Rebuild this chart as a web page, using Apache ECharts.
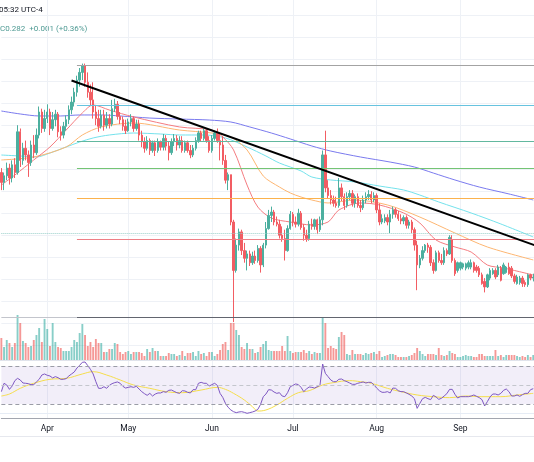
<!DOCTYPE html>
<html>
<head>
<meta charset="utf-8">
<script src="https://cdn.jsdelivr.net/npm/echarts@6/dist/echarts.min.js"></script>
<style>
  html, body { margin: 0; padding: 0; background: #fff; }
  #chart { width: 534px; height: 462px; }
</style>
</head>
<body>
<div id="chart"></div>
<script>
// daily candles from 2024-03-15, [open, close, low, high]
const startDate = Date.UTC(2024, 2, 15)
const dayCount = 202
const candles = [
  [.377,.368,.361,.381],[.368,.374,.361,.377],[.374,.381,.370,.386],[.381,.372,.366,.385],[.372,.384,.368,.388],
  [.384,.377,.372,.390],[.377,.414,.375,.420],[.414,.388,.382,.417],[.388,.399,.384,.404],[.399,.393,.388,.406],
  [.393,.386,.373,.397],[.386,.402,.383,.406],[.402,.395,.390,.411],[.395,.411,.393,.417],[.411,.432,.408,.437],
  [.432,.417,.413,.435],[.417,.426,.414,.434],[.426,.432,.422,.439],[.432,.417,.411,.435],[.417,.425,.415,.432],
  [.425,.430,.419,.434],[.430,.414,.409,.432],[.414,.411,.406,.419],[.411,.419,.408,.423],[.419,.425,.415,.429],
  [.425,.434,.421,.438],[.434,.441,.430,.446],[.441,.450,.437,.454],[.450,.461,.446,.465],[.461,.468,.455,.472],
  [.468,.474,.461,.476],[.474,.459,.455,.476],[.459,.450,.445,.468],[.450,.443,.438,.457],[.443,.432,.426,.459],
  [.432,.426,.420,.438],[.426,.419,.414,.434],[.419,.429,.417,.434],[.429,.420,.415,.434],[.420,.426,.417,.432],
  [.426,.421,.417,.430],[.421,.435,.419,.443],[.435,.439,.432,.444],[.439,.428,.425,.442],[.428,.425,.421,.432],
  [.425,.419,.415,.428],[.419,.415,.412,.425],[.415,.423,.414,.426],[.423,.426,.419,.430],[.426,.417,.414,.428],
  [.417,.421,.415,.425],[.421,.411,.406,.425],[.411,.405,.400,.415],[.405,.399,.395,.409],[.399,.406,.397,.410],
  [.406,.397,.393,.408],[.397,.404,.395,.406],[.404,.397,.392,.406],[.397,.405,.395,.408],[.405,.400,.397,.406],
  [.400,.408,.397,.412],[.408,.401,.397,.411],[.401,.395,.388,.405],[.395,.405,.393,.408],[.405,.408,.401,.412],
  [.408,.402,.397,.411],[.402,.406,.399,.410],[.406,.397,.395,.410],[.397,.404,.395,.406],[.404,.397,.395,.406],
  [.397,.393,.390,.402],[.393,.399,.391,.402],[.399,.406,.397,.409],[.406,.413,.404,.415],[.413,.408,.405,.415],
  [.408,.415,.406,.417],[.415,.406,.404,.417],[.406,.397,.395,.410],[.397,.408,.395,.411],[.408,.413,.406,.415],
  [.413,.406,.404,.417],[.406,.402,.388,.412],[.402,.388,.384,.410],[.388,.370,.367,.393],[.370,.375,.361,.377],
  [.375,.332,.329,.375],[.332,.288,.241,.334],[.288,.311,.286,.317],[.311,.323,.306,.326],[.323,.306,.302,.325],
  [.306,.299,.295,.313],[.299,.303,.288,.306],[.303,.295,.292,.306],[.295,.301,.293,.305],[.301,.297,.294,.306],
  [.297,.308,.295,.311],[.308,.293,.286,.310],[.293,.311,.291,.313],[.311,.326,.308,.332],[.326,.338,.325,.343],
  [.338,.341,.332,.346],[.341,.332,.329,.343],[.332,.330,.328,.337],[.330,.320,.317,.334],[.320,.317,.314,.328],
  [.317,.306,.297,.325],[.306,.326,.305,.329],[.326,.339,.325,.342],[.339,.332,.328,.341],[.332,.330,.327,.337],
  [.330,.340,.328,.344],[.340,.327,.325,.342],[.327,.320,.315,.330],[.320,.317,.314,.325],[.317,.330,.315,.333],
  [.330,.328,.325,.335],[.328,.334,.325,.335],[.334,.325,.321,.335],[.325,.334,.323,.337],[.334,.393,.329,.397],
  [.393,.363,.359,.415],[.363,.356,.353,.370],[.356,.352,.348,.361],[.352,.349,.346,.356],[.349,.347,.345,.355],
  [.347,.363,.345,.372],[.363,.355,.351,.367],[.355,.347,.343,.358],[.347,.355,.345,.359],[.355,.358,.352,.361],
  [.358,.349,.346,.361],[.349,.355,.345,.357],[.355,.347,.345,.358],[.347,.345,.341,.352],[.345,.352,.343,.356],
  [.352,.355,.349,.359],[.355,.357,.352,.361],[.357,.352,.349,.360],[.352,.356,.350,.359],[.356,.343,.340,.358],
  [.343,.332,.329,.349],[.332,.335,.330,.339],[.333,.336,.331,.339],[.336,.332,.329,.339],[.332,.339,.322,.343],
  [.339,.343,.335,.346],[.343,.339,.336,.345],[.339,.335,.333,.342],[.335,.333,.330,.339],[.333,.336,.330,.338],
  [.336,.329,.326,.338],[.329,.332,.326,.334],[.332,.325,.322,.334],[.325,.311,.306,.327],[.311,.293,.270,.315],
  [.293,.299,.290,.302],[.299,.306,.297,.310],[.306,.311,.304,.312],[.311,.309,.304,.313],[.309,.295,.292,.311],
  [.295,.288,.285,.298],[.288,.304,.287,.306],[.304,.297,.295,.306],[.297,.295,.293,.303],[.295,.306,.293,.309],
  [.306,.303,.301,.308],[.303,.318,.302,.320],[.316,.297,.295,.320],[.297,.285,.283,.299],[.288,.295,.286,.296],
  [.290,.295,.288,.296],[.291,.294,.289,.295],[.290,.294,.288,.295],[.291,.295,.289,.297],[.291,.295,.289,.298],
  [.295,.288,.286,.296],[.291,.288,.286,.293],[.290,.284,.282,.292],[.284,.276,.275,.286],[.278,.273,.268,.281],
  [.273,.284,.272,.285],[.281,.288,.279,.290],[.285,.288,.284,.290],[.288,.282,.280,.290],[.284,.291,.282,.293],
  [.290,.279,.278,.292],[.285,.293,.284,.295],[.286,.291,.285,.292],[.291,.285,.284,.295],[.290,.283,.281,.292],
  [.283,.278,.276,.285],[.276,.282,.275,.284],[.277,.281,.275,.283],[.281,.276,.273,.283],[.277,.275,.273,.279],
  [.275,.284,.273,.285],[.284,.281,.279,.285],[.281,.282,.278,.285]
]
const volume = [
  22,13,20,17,13,17,45,37,19,17,13,14,20,25,32,18,41,31,14,37,18,13,12,9,9,9,13,20,18,27,
  36,25,14,18,13,21,17,17,8,8,11,11,17,16,8,6,8,9,6,8,8,8,7,4,11,8,12,9,9,4,
  4,4,7,6,6,4,5,9,4,7,7,8,4,9,6,7,4,8,8,4,6,10,16,18,10,37,37,30,25,13,
  11,17,11,11,7,8,13,16,19,10,9,9,9,9,14,9,24,9,7,8,8,8,10,7,9,6,8,7,7,42,
  37,12,14,12,11,23,28,25,6,5,10,6,6,6,5,7,6,7,8,6,9,3,4,5,6,6,5,3,3,3,
  3,4,5,7,12,9,6,4,6,6,6,5,12,5,4,5,9,7,6,3,3,4,5,4,4,3,3,6,6,4,
  4,4,4,10,4,5,3,5,5,5,5,4,3,4,3,5,3,5
]
const rsi = [
  43.0,51.8,50.0,45.4,48.9,54.6,57.0,55.3,52.1,51.8,51.4,50.4,50.4,53.2,56.0,60.5,61.6,60.2,59.5,57.4,
  58.8,57.7,56.0,56.0,56.7,59.5,61.6,63.7,67.9,70.7,73.9,74.2,70.4,66.5,61.6,53.5,46.5,46.5,48.2,46.5,
  49.6,51.4,52.5,53.2,51.8,48.6,46.8,47.5,48.2,47.5,48.6,45.8,43.0,40.9,39.1,41.2,38.4,40.5,41.6,41.6,
  43.0,42.3,44.4,44.7,43.3,41.9,41.2,44.0,43.7,42.3,41.6,45.1,45.1,51.8,52.8,51.8,51.8,48.9,50.4,51.8,
  49.6,41.2,37.0,30.7,26.5,23.7,21.9,20.9,21.6,21.9,21.2,20.2,20.9,21.6,22.6,24.4,29.6,37.7,40.5,45.1,
  44.7,42.6,41.2,41.9,38.4,37.7,41.9,48.2,49.6,51.1,50.4,47.5,43.0,45.8,47.9,47.5,46.8,48.2,49.6,72.1,
  62.3,58.8,55.3,53.5,53.5,56.0,56.3,54.6,53.5,52.1,50.7,50.7,51.8,52.5,53.2,52.1,52.8,52.8,50.0,46.8,
  44.0,42.3,42.3,43.0,41.6,46.8,46.5,44.0,43.0,43.0,41.6,40.2,38.4,35.6,25.4,30.7,35.6,37.0,35.6,34.6,
  39.1,37.4,34.9,36.0,38.4,40.9,45.4,45.4,40.2,36.3,37.7,37.7,37.7,37.7,38.4,39.5,38.1,36.7,34.6,27.9,
  32.5,37.4,40.5,40.5,39.5,41.2,44.4,45.8,43.0,38.4,38.4,39.5,38.1,39.8,41.2,41.2,45.1,46.1
]
// [day index, value]
const rsiMa = [[0,38.4],[3,40.5],[7,46.5],[12,51.8],[18,56.0],[24,57.0],[30,61.6],[34,64.0],[39,60.5],[44,55.3],
  [49,50.0],[55,46.5],[61,43.0],[67,41.9],[74,44.7],[80,47.5],[83,45.4],[86,41.2],[90,34.2],[93,27.2],[95,22.6],
  [98,23.7],[102,28.9],[106,36.0],[110,41.9],[114,44.0],[119,50.0],[123,52.5],[129,54.6],[133,53.5],[137,51.8],
  [143,46.5],[148,43.0],[154,39.5],[160,37.7],[166,36.7],[172,38.4],[178,37.7],[185,37.7],[191,39.5],[197,41.2]]
const ema20 = [[0,.3656],[5,.3747],[12,.3884],[18,.4002],[24,.4156],[30,.4311],[34,.4384],[40,.4338],[49,.4275],
  [66,.4184],[78,.4156],[82,.4093],[86,.3975],[91,.3656],[95,.3456],[100,.3356],[107,.3320],[115,.3293],[121,.3320],
  [125,.3429],[133,.3493],[140,.3475],[149,.3402],[155,.3311],[161,.3156],[168,.3093],[174,.3047],[180,.2929],
  [186,.2902],[197,.2838]]
const ema50 = [[0,.3884],[12,.3911],[24,.4002],[30,.4111],[37,.4184],[49,.4220],[66,.4156],[78,.4129],[85,.4093],
  [91,.3975],[97,.3738],[103,.3638],[107,.3584],[111,.3547],[115,.3520],[121,.3493],[131,.3520],[143,.3475],
  [155,.3365],[168,.3220],[180,.3093],[197,.2975]]
const ema100 = [[0,.3929],[7,.3920],[13,.3911],[18,.3947],[24,.4002],[29,.4047],[34,.4084],[40,.4111],[49,.4129],
  [59,.4120],[66,.4111],[75,.4111],[83,.4084],[91,.4002],[98,.3920],[103,.3856],[111,.3784],[115,.3729],[122,.3702],
  [131,.3684],[140,.3647],[149,.3611],[155,.3565],[162,.3502],[174,.3402],[185,.3302],[197,.3184]]
const ema200 = [[0,.4329],[7,.4302],[14,.4284],[22,.4284],[29,.4293],[37,.4293],[44,.4284],[55,.4265],[66,.4256],
  [77,.4247],[85,.4229],[92,.4184],[100,.4129],[107,.4075],[115,.4011],[122,.3965],[133,.3911],[144,.3865],
  [153,.3820],[160,.3765],[168,.3702],[177,.3638],[188,.3575],[197,.3520]]
// drawn horizontal levels, trend line
const levelPrices = [0.4747, 0.4384, 0.4056, 0.3811, 0.3538, 0.3165, 0.2456]
const dottedLevel = 0.3220
const levelFrom = 28
const trendFrom = [26, 0.4606]
const trendTo = [201, 0.3078]
const monthNames = ['Jan','Feb','Mar','Apr','May','Jun','Jul','Aug','Sep','Oct','Nov','Dec']

const dates = []
for (let i = 0; i < dayCount; i++) {
  dates.push(new Date(startDate + i * 86400000).toISOString().slice(0, 10))
}
const isMonthStart = (idx, val) => val.slice(8) === '01'
const levelColors = ['#a3a3a3', '#67c3df', '#62b89f', '#74c474', '#fbb24d', '#ee7f86', '#62656f']
const up = '#4caf9f'
const down = '#f25d63'
const gridBox = { left: 1.35, right: -10.05, outerBoundsMode: 'none', containLabel: false }
const font = 'Roboto, "Noto Sans", sans-serif'

const levelLines = levelPrices.map((p, k) => [
  { coord: [dates[levelFrom], p], lineStyle: { color: levelColors[k], width: 1, type: 'solid' } },
  { coord: [dates[dayCount - 1], p] }
])
levelLines.push([
  { coord: [dates[0], levelPrices[6]], lineStyle: { color: '#c3c5cc', width: 1, type: 'solid' } },
  { coord: [dates[levelFrom], levelPrices[6]] }
])
levelLines.push([
  { coord: [dates[0], dottedLevel], lineStyle: { color: '#98cfc9', width: 1, type: 'dotted' } },
  { coord: [dates[dayCount - 1], dottedLevel] }
])
levelLines.push([
  { coord: [dates[trendFrom[0]], trendFrom[1]], lineStyle: { color: '#000', width: 2, type: 'solid' } },
  { coord: [dates[trendTo[0]], trendTo[1]] }
])

function maLine(data, color) {
  return {
    type: 'line', xAxisIndex: 0, yAxisIndex: 0, data: data, showSymbol: false, smooth: 0.3,
    lineStyle: { color: color, width: 1 }, silent: true, z: 3
  }
}

const chart = echarts.init(document.getElementById('chart'))
chart.setOption({
  animation: false,
  backgroundColor: '#fff',
  grid: [
    Object.assign({ top: 15.2, height: 330 }, gridBox),
    Object.assign({ top: 0, height: 360 }, gridBox),
    Object.assign({ top: 361, height: 57 }, gridBox)
  ],
  xAxis: [
    { type: 'category', gridIndex: 0, data: dates, boundaryGap: false, show: false },
    {
      type: 'category', gridIndex: 1, data: dates, boundaryGap: false,
      axisLine: { show: false }, axisTick: { show: false }, axisLabel: { show: false },
      splitLine: { show: true, interval: isMonthStart, lineStyle: { color: '#eef1f6', width: 1 } }
    },
    {
      type: 'category', gridIndex: 2, data: dates, boundaryGap: false,
      axisLine: { show: true, lineStyle: { color: '#a3a6af', width: 1 } },
      axisTick: { show: false },
      axisLabel: {
        interval: isMonthStart, margin: 6, color: '#131722', fontSize: 8.5, fontFamily: font,
        formatter: (val) => monthNames[+val.slice(5, 7) - 1]
      },
      splitLine: { show: true, interval: isMonthStart, lineStyle: { color: '#eef1f6', width: 1 } }
    }
  ],
  yAxis: [
    {
      type: 'value', gridIndex: 0, min: 0.22, max: 0.52, interval: 0.02,
      axisLine: { show: false }, axisTick: { show: false }, axisLabel: { show: false },
      splitLine: { show: true, lineStyle: { color: '#eef1f6', width: 1 } }
    },
    { type: 'value', gridIndex: 1, min: 0, max: 360, show: false },
    { type: 'value', gridIndex: 2, min: 15.26, max: 75.26, show: false }
  ],
  graphic: [
    { type: 'text', x: -1, y: 6, style: { text: '05:32 UTC-4', fill: '#131722', font: '8px ' + font } },
    { type: 'text', x: 0, y: 25, style: { text: 'C0.282  +0.001 (+0.36%)', fill: '#4e9a93', font: '8px ' + font } },
    { type: 'line', shape: { x1: 0, y1: 360.5, x2: 534, y2: 360.5 }, style: { stroke: '#e0e3eb', lineWidth: 1 }, z: 1 },
    { type: 'line', shape: { x1: 0, y1: 413.5, x2: 534, y2: 413.5 }, style: { stroke: '#e6ecf5', lineWidth: 1 }, z: 1 },
    { type: 'line', shape: { x1: 0, y1: 436.5, x2: 534, y2: 436.5 }, style: { stroke: '#e6e8ee', lineWidth: 1 }, z: 1 }
  ],
  series: [
    {
      type: 'bar', xAxisIndex: 1, yAxisIndex: 1, data: volume, barWidth: '70%', silent: true, z: 1,
      itemStyle: {
        color: (p) => candles[p.dataIndex][1] >= candles[p.dataIndex][0]
          ? 'rgba(38,166,154,0.55)' : 'rgba(239,83,80,0.6)'
      }
    },
    maLine(ema200, '#7a7aee'),
    maLine(ema100, '#74e2ec'),
    maLine(ema50, '#fdb672'),
    maLine(ema20, '#f47c80'),
    {
      type: 'candlestick', xAxisIndex: 0, yAxisIndex: 0, data: candles, barWidth: '72%', silent: true, z: 4,
      itemStyle: { color: up, color0: down, borderColor: up, borderColor0: down, borderWidth: 1 },
      markLine: {
        silent: true, symbol: ['none', 'none'], label: { show: false }, animation: false,
        emphasis: { disabled: true }, data: levelLines
      }
    },
    {
      type: 'line', xAxisIndex: 2, yAxisIndex: 2, data: rsi, showSymbol: false, silent: true,
      lineStyle: { color: '#7e57c2', width: 1 }, z: 4,
      markArea: {
        silent: true, itemStyle: { color: 'rgba(126,87,194,0.1)' },
        data: [[{ yAxis: 30 }, { yAxis: 70 }]]
      },
      markLine: {
        silent: true, symbol: ['none', 'none'], label: { show: false }, animation: false,
        data: [
          { yAxis: 70, lineStyle: { color: '#9a9ca6', type: [4, 3], width: 1 } },
          { yAxis: 50, lineStyle: { color: '#c4c6cd', type: [4, 3], width: 1 } },
          { yAxis: 30, lineStyle: { color: '#9a9ca6', type: [4, 3], width: 1 } }
        ]
      }
    },
    {
      type: 'line', xAxisIndex: 2, yAxisIndex: 2, data: rsiMa, showSymbol: false, smooth: 0.4, silent: true,
      lineStyle: { color: '#f5dd4b', width: 1 }, z: 3
    }
  ]
})
</script>
</body>
</html>
